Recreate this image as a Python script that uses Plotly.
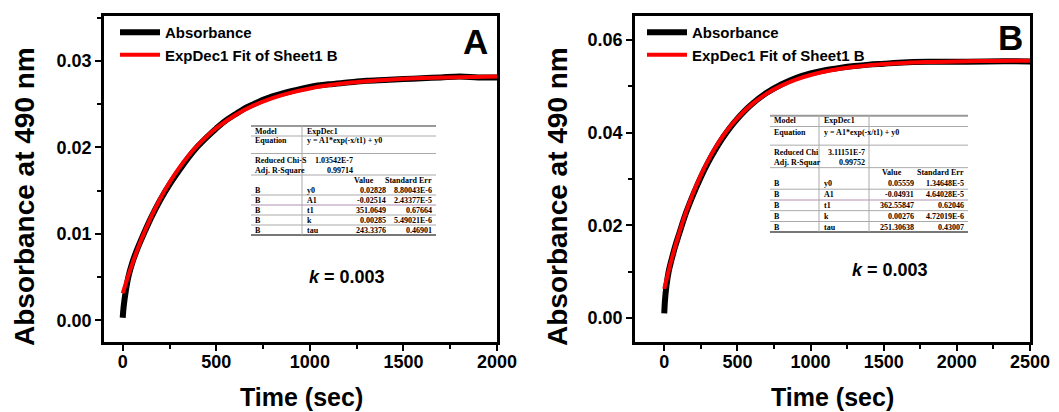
import plotly.graph_objects as go

# ---------------- data ----------------
time_abs_a = [0, 5, 15, 30, 50, 75, 100, 150, 200, 250, 300, 350, 400, 450, 500, 550, 600, 650, 700,
              750, 800, 900, 1000, 1100, 1200, 1300, 1400, 1500, 1600, 1700, 1800, 1900, 2000]
abs_a = [0.0003, 0.0016, 0.0032, 0.0050, 0.0066, 0.0081, 0.0094, 0.0118, 0.0139, 0.0157, 0.0173,
         0.0188, 0.0201, 0.0212, 0.0222, 0.0231, 0.0238, 0.0245, 0.0250, 0.0255, 0.0259, 0.0265,
         0.0270, 0.0273, 0.0275, 0.0277, 0.0278, 0.0279, 0.0280, 0.0281, 0.0282, 0.0281, 0.0281]
time_fit_a = [0, 25, 50, 100, 150, 200, 250, 300, 350, 400, 450, 500, 600, 700, 800, 900, 1000,
              1100, 1200, 1300, 1400, 1500, 1600, 1800, 2000]
fit_a = [0.00314, 0.00487, 0.00648, 0.00937, 0.01188, 0.01406, 0.01595, 0.01758, 0.01901, 0.02024,
         0.02130, 0.02223, 0.02373, 0.02486, 0.02571, 0.02634, 0.02682, 0.02718, 0.02746, 0.02766,
         0.02781, 0.02793, 0.02802, 0.02813, 0.02820]

time_abs_b = [0, 5, 15, 30, 50, 75, 100, 150, 200, 250, 300, 350, 400, 450, 500, 550, 600, 700, 800,
              900, 1000, 1100, 1200, 1300, 1400, 1500, 1600, 1800, 2000, 2200, 2500]
abs_b = [0.0010, 0.0038, 0.0070, 0.0100, 0.0126, 0.0155, 0.0180, 0.0228, 0.0268, 0.0304, 0.0336,
         0.0364, 0.0389, 0.0411, 0.0430, 0.0447, 0.0462, 0.0486, 0.0504, 0.0518, 0.0528, 0.0535,
         0.0540, 0.0544, 0.0547, 0.0549, 0.0551, 0.0553, 0.0553, 0.0554, 0.0554]
time_fit_b = [0, 25, 50, 100, 150, 200, 250, 300, 350, 400, 450, 500, 600, 700, 800, 900, 1000,
              1200, 1400, 1600, 1800, 2000, 2250, 2500]
fit_b = [0.00628, 0.00956, 0.01263, 0.01816, 0.02299, 0.02719, 0.03085, 0.03403, 0.03681, 0.03923,
         0.04134, 0.04317, 0.04617, 0.04844, 0.05016, 0.05147, 0.05246, 0.05379, 0.05455, 0.05499,
         0.05525, 0.05539, 0.05549, 0.05554]

series_names = ["Absorbance", "ExpDec1 Fit of Sheet1 B"]
panel_labels = ["A", "B"]
k_text = "<i>k</i> = 0.003"
x_title = "Time (sec)"
y_title = "Absorbance at 490 nm"

table_a = {
    "model": "ExpDec1", "equation": "y = A1*exp(-x/t1) + y0",
    "chi_label": "Reduced Chi-S", "chi": "1.03542E-7",
    "r2_label": "Adj. R-Square", "r2": "0.99714",
    "rows": [("B", "y0", "0.02828", "8.80043E-6"), ("B", "A1", "-0.02514", "2.43377E-5"),
             ("B", "t1", "351.0649", "0.67664"), ("B", "k", "0.00285", "5.49021E-6"),
             ("B", "tau", "243.3376", "0.46901")],
}
table_b = {
    "model": "ExpDec1", "equation": "y = A1*exp(-x/t1) + y0",
    "chi_label": "Reduced Chi", "chi": "3.11151E-7",
    "r2_label": "Adj. R-Squar", "r2": "0.99752",
    "rows": [("B", "y0", "0.05559", "1.34648E-5"), ("B", "A1", "-0.04931", "4.64028E-5"),
             ("B", "t1", "362.55847", "0.62046"), ("B", "k", "0.00276", "4.72019E-6"),
             ("B", "tau", "251.30638", "0.43007")],
}

# ---------------- layout geometry ----------------
W, H = 1059, 412
FONT = "Liberation Sans"

def px(x):
    return x / W

def py(y):
    return 1 - y / H

fig = go.Figure()

fig.add_trace(go.Scatter(x=time_abs_a, y=abs_a, mode="lines", name=series_names[0],
                         line=dict(color="black", width=6, shape="spline"), xaxis="x", yaxis="y",
                         legend="legend"))
fig.add_trace(go.Scatter(x=time_fit_a, y=fit_a, mode="lines", name=series_names[1],
                         line=dict(color="#ff0000", width=4, shape="spline"), xaxis="x", yaxis="y",
                         legend="legend"))
fig.add_trace(go.Scatter(x=time_abs_b, y=abs_b, mode="lines", name=series_names[0],
                         line=dict(color="black", width=6, shape="spline"), xaxis="x2", yaxis="y2",
                         legend="legend2"))
fig.add_trace(go.Scatter(x=time_fit_b, y=fit_b, mode="lines", name=series_names[1],
                         line=dict(color="#ff0000", width=4, shape="spline"), xaxis="x2", yaxis="y2",
                         legend="legend2"))

tickfont = dict(family=FONT, size=18, color="black", weight="bold")

def xaxis(domain, rng, dtick, anchor):
    return dict(domain=domain, range=rng, dtick=dtick, tick0=0, anchor=anchor, automargin=False,
                showline=True, linecolor="black", linewidth=2.5, mirror=True,
                ticks="outside", ticklen=6, tickwidth=2, tickcolor="black", ticklabelstandoff=-4,
                minor=dict(ticks="outside", ticklen=4, tickwidth=2, dtick=dtick / 2, tickcolor="black"),
                showgrid=False, zeroline=False, tickfont=tickfont)

def yaxis(domain, rng, dtick, anchor, fmt):
    return dict(domain=domain, range=rng, dtick=dtick, tick0=0, anchor=anchor, tickformat=fmt,
                automargin=False,
                showline=True, linecolor="black", linewidth=2.5, mirror=True,
                ticks="outside", ticklen=6, tickwidth=2, tickcolor="black",
                minor=dict(ticks="outside", ticklen=4, tickwidth=2, dtick=dtick / 2, tickcolor="black"),
                showgrid=False, zeroline=False, tickfont=tickfont)

yd = [py(342), py(16)]
legfont = dict(family=FONT, size=15, color="black", weight="bold")
fig.update_layout(
    width=W, height=H, margin=dict(l=0, r=0, t=0, b=0, autoexpand=False),
    paper_bgcolor="white", plot_bgcolor="white",
    xaxis=xaxis([px(104), px(497)], [-100, 2000], 500, "y"),
    yaxis=yaxis(yd, [-0.0025, 0.0352], 0.01, "x", ".2f"),
    xaxis2=xaxis([px(635), px(1030)], [-200, 2500], 500, "y2"),
    yaxis2=yaxis(yd, [-0.0052, 0.0652], 0.02, "x2", ".2f"),
    legend=dict(x=px(115), y=py(16), xanchor="left", yanchor="top", bgcolor="rgba(0,0,0,0)",
                font=legfont, itemwidth=40, tracegroupgap=0),
    legend2=dict(x=px(642), y=py(16), xanchor="left", yanchor="top", bgcolor="rgba(0,0,0,0)",
                 font=legfont, itemwidth=40, tracegroupgap=0),
    showlegend=True,
)

annotations = []
shapes = []

def label(text, x, y, size, angle=0):
    annotations.append(dict(text=text, x=px(x), y=py(y), xref="paper", yref="paper",
                            xanchor="center", yanchor="middle", showarrow=False, textangle=angle,
                            font=dict(family=FONT, size=size, color="black", weight="bold")))

label(panel_labels[0], 475, 42, 35)
label(panel_labels[1], 1010, 38, 35)
label(k_text, 347, 277, 18)
label(k_text, 890, 270, 18)
# axis titles
label(x_title, 301, 397, 25)
label(x_title, 832, 397, 25)
label(y_title, 24, 197, 28, -90)
label(y_title, 557, 197, 28, -90)

TFONT = dict(family="Liberation Serif", size=8, color="black", weight="bold")

def add_table(t, x0, x1, c2, c3, vright, sright, sval, rows_y, col3_line):
    top = rows_y[0] - 5
    bot = rows_y[-1] + 5
    shapes.append(dict(type="rect", xref="paper", yref="paper", x0=px(x0), x1=px(x1),
                       y0=py(bot), y1=py(top), fillcolor="white", line=dict(width=0), layer="above"))
    def txt(s, x, y, anchor="left"):
        annotations.append(dict(text=s, x=px(x), y=py(y), xref="paper", yref="paper", showarrow=False,
                                xanchor=anchor, yanchor="middle", font=TFONT))
    (ym, ye, yc, yr, yh, *yrows) = rows_y
    txt("Model", x0 + 2, ym)
    txt(t["model"], c2 + 3, ym)
    txt("Equation", x0 + 2, ye)
    txt(t["equation"], c2 + 3, ye)
    txt(t["chi_label"], x0 + 2, yc)
    txt(t["chi"], sval, yc, "right")
    txt(t["r2_label"], x0 + 2, yr)
    txt(t["r2"], sval, yr, "right")
    txt("Value", vright - 12, yh, "right")
    txt("Standard Err", sright, yh, "right")
    for (b, p, v, s), yy in zip(t["rows"], yrows):
        txt(b, x0 + 2, yy)
        txt(p, c2 + 3, yy)
        txt(v, vright, yy, "right")
        txt(s, sright, yy, "right")
    def hline(y, w=1, c="#aaaaaa"):
        shapes.append(dict(type="line", xref="paper", yref="paper", x0=px(x0), x1=px(x1),
                           y0=py(y), y1=py(y), line=dict(color=c, width=w), layer="above"))
    hline(top, 2, "#999999")
    hline((ym + ye) / 2)
    hline((ye + yc) / 2 + 3)
    hline((yr + yh) / 2)
    hline((yrows[0] + yrows[1]) / 2)
    hline((yrows[1] + yrows[2]) / 2, 1, "#b090b0")
    hline((yrows[2] + yrows[3]) / 2)
    hline((yrows[3] + yrows[4]) / 2)
    hline(bot, 2, "#777777")
    shapes.append(dict(type="line", xref="paper", yref="paper", x0=px(c2), x1=px(c2),
                       y0=py(bot), y1=py(top), line=dict(color="#aaaaaa", width=1), layer="above"))
    if col3_line:
        shapes.append(dict(type="line", xref="paper", yref="paper", x0=px(c3), x1=px(c3),
                           y0=py(bot), y1=py(top), line=dict(color="#aaaaaa", width=1), layer="above"))

add_table(table_a, 251, 436, 302, 360, 388, 434, 355,
          [131, 141, 160, 170, 180, 190, 200, 210, 220, 230], False)
add_table(table_b, 770, 968, 819, 869, 916, 966, 867,
          [120.7, 132.3, 152, 162.3, 173, 183.7, 194.7, 205.3, 216, 227], True)

fig.update_layout(annotations=annotations, shapes=shapes)

fig.write_html("out.html")
